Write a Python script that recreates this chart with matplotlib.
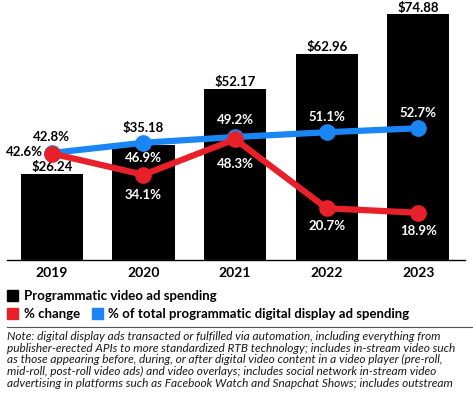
import matplotlib
matplotlib.use("Agg")
import matplotlib.pyplot as plt
from matplotlib.patches import Rectangle

years = ["2019", "2020", "2021", "2022", "2023"]
spending = [26.24, 35.18, 52.17, 62.96, 74.88]
pct_change = [42.6, 34.1, 48.3, 20.7, 18.9]
pct_total = [42.8, 46.9, 49.2, 51.1, 52.7]

RED = "#e8202a"
BLUE = "#1a86f5"
FONT = "Lato"

plt.rcParams["font.family"] = [FONT, "DejaVu Sans"]

fig = plt.figure(figsize=(4.73, 3.94), dpi=100)
ax = fig.add_axes([7 / 473, 134 / 394, 458 / 473, 260 / 394])
ax2 = ax.twinx()

x = list(range(len(years)))
ax.bar(x, spending, width=0.68, color="black", zorder=1)
ax.set_xlim(-0.49, 4.51)
ax.set_ylim(0, 79.3)
ax2.set_ylim(0, 104)

ax2.plot(x, pct_total, color=BLUE, lw=4.5, marker="o", ms=11, zorder=2)
ax2.plot(x, pct_change, color=RED, lw=4.5, marker="o", ms=11, zorder=3)

for a in (ax, ax2):
    for s in ("top", "right", "left"):
        a.spines[s].set_visible(False)
    a.set_yticks([])
ax.spines["bottom"].set_color("#555555")
ax.spines["bottom"].set_linewidth(1)
ax.set_xticks(x)
ax.set_xticklabels(years, fontsize=10, fontweight="bold")
ax.tick_params(axis="x", length=0, pad=5)

lbl = dict(fontsize=9.5, fontweight="bold", textcoords="offset pixels",
           annotation_clip=False)

# bar value labels, pixel offset of baseline above bar top
bar_off = [3, 13, 3, 3, 2]
for i, v in enumerate(spending):
    ax.annotate(f"${v:.2f}", (i, v), xytext=(0, bar_off[i]), ha="center",
                va="baseline", **lbl)

# percent labels (offsets in pixels from markers)
total_off = [(0, 16), (0, -15), (0, 17), (0, 15), (0, 15)]
total_col = ["black", "white", "white", "white", "white"]
change_off = [(-9, 1), (0, -20), (0, -25), (0, -18), (0, -18)]
change_ha = ["right", "center", "center", "center", "center"]
change_col = ["black", "white", "white", "white", "white"]
for i in x:
    ax2.annotate(f"{pct_total[i]}%", (i, pct_total[i]), xytext=total_off[i],
                 color=total_col[i], ha="center", va="center", **lbl)
    ax2.annotate(f"{pct_change[i]}%", (i, pct_change[i]), xytext=change_off[i],
                 color=change_col[i], ha=change_ha[i], va="center", **lbl)

# legend
def square(x0, y0, c):
    fig.patches.append(Rectangle((x0 / 473, 1 - (y0 + 11) / 394), 11 / 473, 11 / 394,
                                 transform=fig.transFigure, color=c, figure=fig))

square(7, 290, "black")
fig.text(24 / 473, 1 - 296 / 394, "Programmatic video ad spending", fontsize=9.5,
         fontweight="bold", va="center")
square(7, 308, RED)
fig.text(24 / 473, 1 - 314 / 394, "% change", fontsize=9.5, fontweight="bold", va="center")
square(92, 308, BLUE)
fig.text(108 / 473, 1 - 314 / 394, "% of total programmatic digital display ad spending",
         fontsize=9.5, fontweight="bold", va="center")

fig.add_artist(plt.Line2D([7 / 473, 1], [1 - 327 / 394] * 2, transform=fig.transFigure,
                          color="#555555", lw=0.8))

note = ("Note: digital display ads transacted or fulfilled via automation, including everything from\n"
        "publisher-erected APIs to more standardized RTB technology; includes in-stream video such\n"
        "as those appearing before, during, or after digital video content in a video player (pre-roll,\n"
        "mid-roll, post-roll video ads) and video overlays; includes social network in-stream video\n"
        "advertising in platforms such as Facebook Watch and Snapchat Shows; includes outstream")
fig.text(7 / 473, 1 - 331 / 394, note, fontsize=8.6, style="italic", va="top",
         linespacing=1.07, color="#1a1a1a")

fig.savefig("out.png", dpi=100)
